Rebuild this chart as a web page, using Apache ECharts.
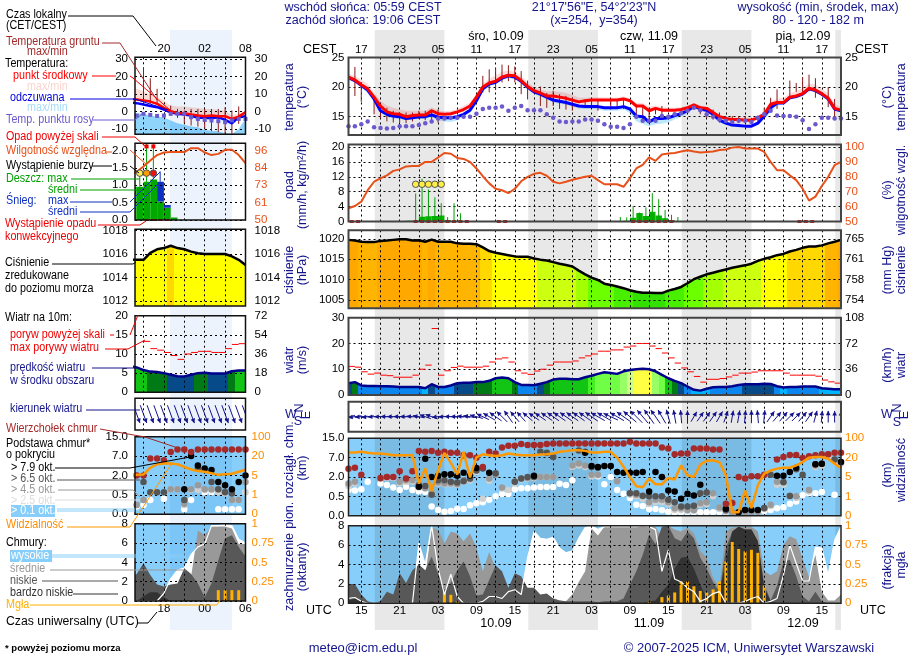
<!DOCTYPE html>
<html>
<head>
<meta charset="utf-8">
<title>meteogram</title>
<script src="https://cdn.jsdelivr.net/npm/echarts@6/dist/echarts.min.js"></script>
<style>
html,body{margin:0;padding:0;background:#fff;}
#main{width:910px;height:660px;}
</style>
</head>
<body>
<div id="main"></div>
<script>
// main panel: one value per hour, first one is 13 UTC on 09.09
const tempMid = [21.7,21.2,20.4,19.7,18.3,16.8,15.8,15.5,15.4,15.0,
	15.2,15.3,15.3,16.0,15.5,15.4,15.5,15.8,16.2,16.8,
	18.3,20.0,20.7,21.0,21.7,22.0,21.9,21.1,20.1,19.4,
	19.0,18.5,18.5,18.3,18.1,17.8,17.5,17.7,17.8,17.8,
	17.8,17.8,17.8,18.0,17.7,16.8,16.8,16.0,16.4,16.1,
	16.1,16.1,16.2,16.5,17.0,16.5,16.4,15.7,15.0,14.7,
	14.5,14.5,14.4,14.4,14.8,15.4,17.1,17.4,17.4,18.3,
	18.5,18.9,19.8,19.5,18.9,18.1,16.4,16.1];
const tempFeels = [21.6,21.1,20.3,19.5,18.0,16.0,15.4,15.1,15.0,14.7,
	14.8,15.0,15.0,15.3,14.9,14.8,14.8,15.0,15.4,16.1,
	17.7,19.7,20.5,20.8,21.5,21.9,21.7,21.0,20.0,19.2,
	18.8,18.3,17.8,17.6,17.4,17.1,16.8,16.7,16.7,16.7,
	16.5,16.5,16.5,16.7,16.3,15.1,15.0,14.1,14.7,14.7,
	14.8,15.2,15.5,16.0,16.8,16.3,16.1,15.4,14.4,13.9,
	13.6,13.5,13.4,13.4,13.9,15.1,16.5,17.3,17.3,18.2,
	18.4,18.8,19.7,19.4,18.8,18.0,16.3,16.0];
const tempMax = [22.3,21.9,21.2,20.5,19.1,17.7,16.9,16.5,16.2,16.0,
	16.0,16.0,16.0,16.6,16.1,15.9,16.0,16.3,16.8,17.4,
	18.8,20.6,21.4,22.0,22.6,22.8,22.6,21.9,20.8,20.0,
	19.6,19.3,19.3,19.2,19.0,18.7,18.2,18.2,18.3,18.3,
	18.3,18.2,18.2,18.4,18.1,17.3,17.3,16.7,16.9,16.6,
	16.5,16.5,16.6,16.8,17.3,16.9,16.7,16.0,15.4,15.0,
	14.8,14.8,14.8,14.8,15.2,16.0,17.6,18.0,18.2,18.9,
	19.3,19.8,20.6,20.4,19.7,18.9,17.2,16.6];
const tempMin = [21.2,20.7,19.9,19.0,17.6,15.7,15.0,14.7,14.6,14.4,
	14.5,14.6,14.6,14.9,14.4,14.2,14.1,14.4,15.0,15.6,
	17.2,19.2,20.2,20.5,21.2,21.5,21.3,20.6,19.6,18.8,
	18.4,17.9,17.4,17.2,17.0,16.7,16.4,16.3,16.3,16.2,
	16.0,16.0,16.0,16.2,15.6,14.2,13.8,13.4,13.7,13.8,
	14.0,14.5,15.0,15.5,16.5,16.0,15.8,15.0,14.0,13.6,
	13.3,13.2,13.2,13.2,13.6,14.5,15.8,16.8,17.2,17.9,
	18.2,18.6,19.4,19.1,18.5,17.6,16.0,15.8];
const dewPoint = [13.4,13.4,13.7,14.2,13.2,13.1,13,13.1,13.4,13.4,
	13.4,13.6,13.9,14.2,14.7,14.7,14.8,14.8,15,15,
	15.5,16.3,16.5,16.5,16.7,16,16.5,16.8,16.1,16.1,
	16.1,15.4,14.8,14.2,14.1,14.2,14.2,14.5,14.5,14.3,
	13.7,13.3,13.3,13.1,13.7,15,14.3,14.3,14.3,15.1,
	15,15.4,15.6,16,16.5,16.1,15.4,15,14.5,14.3,
	14.1,14.3,14.3,14.1,14.8,15.4,16,15.2,15.1,15.1,
	15,14.4,12.9,13.7,14.8,14.8,14.7,14.7];
const groundHours = [13,14,15,17,18,19,20,21,22,23,24,25,26,27,34,35,36,37,38,39,40,41,43,44,45,46,47,48,50,51,52,
	54,55,56,58,59,60,61,62,68,69,70,71,72,73,74,75,76,77,78,79,80,82,83,84,85,86,88,89];
const groundHi = [24.8,23.4,20.8,18.5,16.8,16.5,16,15.7,15.7,15.7,16,16,16.2,16.2,21.9,23,23.2,23.8,23.7,23.5,22.7,21.1,20.1,19,19.4,18.8,18.5,18.2,17.9,17.9,17.9,
	17.9,17.9,17.9,17,16.8,16.5,16.5,16.8,16.5,16.2,16.2,15.7,15.1,15.1,15.1,15.1,14.8,15.1,16.5,18.2,19.6,21.1,20.7,21.7,22.1,21.5,20,18];
const groundLo = [21.5,18.5,17.5,15.4,14.8,14.2,14,14,13.9,14.2,14.6,14.4,14.2,14,19.1,19.1,19.5,20.8,21,20.8,18.8,17.9,16.8,16.5,16.8,16.3,16.2,16,16.5,16.5,16,
	16.3,16.3,16.3,14.8,14.5,14.2,15.4,14.8,15.4,14.8,14.5,14,13.9,13.5,13.9,13.9,13.7,14,14.8,16,16.3,18.2,19.2,18.9,19.3,18.2,16.6,14.5];

const humidity = [58.9,60.4,63.3,71,76.7,79,81,84,85,87,
	87.3,87.3,90,90,93,96,95.5,92.7,92,90,
	85.6,80.4,75.6,72,71,69,72,77,80,82,
	82.7,80.7,76.7,75.6,76.7,78,79,80,80.7,77.8,
	75,75,75,73.3,79,85.6,88,93,90.7,95,
	95.6,96,97,97.8,97,96.4,96.7,97,98,98.4,
	99.6,100,99,99,99,96.7,90,84.4,84.4,81,
	77.8,72,64,66.7,73.8,80,87.8,90];
const rainHours = [22,23,24,25,26,27,28,29,30,55,56,57,58,59,60,61,62,63,64];
const rainMean = [0.2,0.3,1.3,1.4,1.5,1.6,0.4,0.1,0,0.1,0.2,1,2.3,1.5,2.6,1.6,0.9,0.4,0.1];
const rainMax = [0.2,7.5,11.5,8.6,6.5,4.9,1.2,4.9,2.2,1.2,1.1,4.2,2.4,3.8,7.6,6,3.1,1.8,1.2];
const convectiveHours = [13,14,23,24,25,26,27,28,29,30,31,36,37,57,58,59,60,61,62,63,83,84,85];
const stormHours = [23,24,25,26,27];

const pressure = [1019.75,1019.6,1019.3,1019.2,1019.2,1019.5,1019.6,1019.75,1019.9,1019.9,
	1019.6,1019.65,1019.3,1019.8,1019.3,1019.3,1019.3,1018.9,1018.8,1018.8,
	1018.7,1017.9,1017,1016.6,1016.3,1016,1015.7,1015.6,1015.6,1015.2,
	1014.9,1014.7,1014.3,1013.9,1013.6,1013.2,1012.2,1011.3,1010.5,1009.9,
	1009,1008.7,1008.3,1007.9,1007.4,1007,1006.8,1006.8,1006.7,1006.7,
	1007.3,1007.7,1008.2,1009.1,1010.1,1010.7,1011.3,1011.7,1012.1,1012.5,
	1012.9,1013.2,1013.5,1013.9,1014.6,1015.1,1015.5,1016,1016.3,1016.9,
	1017.3,1017.8,1018.1,1018.1,1018.4,1018.9,1019.3,1019.75];

const windSpeed = [4.6,5,3.7,3.5,3.5,3.4,3.4,3.3,3.1,3.1,
	3.1,3.1,2.6,4.2,3.1,3.1,3.7,4.6,4.8,4.8,
	5,5,5.5,6.5,6.8,6.5,5,3.9,3.9,3.8,
	4.4,5,6,6.3,6.3,6.1,6.1,6.9,7.5,8.2,
	8.8,8.5,8.2,9.2,9.7,10,10.2,10,9.2,7.8,
	6.5,5.5,4.6,3.3,2,1.7,2.4,3,3.1,3.1,
	3.4,3.9,4.2,4.2,4.2,4.4,4.3,3.4,2.9,3.1,
	3.1,3.3,3.3,3.3,2.6,2.4,2.2,2.2];
const windGust = [11.1,10.8,9,8.1,8.5,7.7,7.5,6.9,6.9,6.9,
	7.7,10,11.6,25.8,7.7,9.4,10.7,11.2,10.8,10.8,
	10.8,11.2,12.8,14,14.4,12.8,9.4,8.5,8,9.3,
	10,11.6,12.8,12.8,12.8,13.2,14.4,15.2,15.9,17,
	17,17.5,17.5,18.6,19,20,20,19,18,16.3,
	14.4,12.4,10.5,9,7.2,5,6.1,6.1,6.4,7,
	7.7,8.5,8.5,8.9,9.4,9.4,9.4,9.4,8.5,7.7,
	7.7,7.7,7.7,7.3,5.8,5.1,4.6];
const windDir = [260,262,265,262,268,270,272,272,272,272,
	275,280,290,290,265,268,272,272,275,278,
	285,295,300,305,315,325,320,318,310,305,
	305,305,305,305,305,305,305,305,305,300,
	300,295,300,305,310,315,320,325,325,330,
	345,350,355,0,30,35,35,35,30,20,
	10,10,5,0,355,5,35,40,40,45,
	45,40,35,15,5,0,0,0];

// cloud base heights in km by cover class, null where the class has no dot
const cloudTop = [4.15,4.4,2.6,null,null,1.93,2,2,3.5,1.88,
	3.5,9.7,9.4,9.8,9,9.4,9,9,8,8,
	7,4.6,9.4,8.7,11.2,11.9,11.9,12.6,12.2,12.2,
	12.2,12.6,12.8,12.8,12.8,12.8,12.8,12.8,12.8,12.8,
	12.8,12.8,12.8,12.8,13.6,12.8,12.8,12.8,12.8,11.2,
	10.8,8.4,8.7,8.7,10.8,10.8,10.8,10.4,10.4,0.31,
	0.33,2,1.88,2.2,2.2,2.6,null,6.5,7.3,8.1,
	8.1,6.9,7.6,8,8.4,8.4,9,9];
const cloudBlack = [null,null,null,null,null,null,null,null,null,null,
	null,1.25,6.7,2,2.3,2.7,2.7,2.3,3.1,2.4,
	4.3,null,3.1,null,null,null,null,null,null,2.3,
	null,null,null,null,null,null,null,9,4.85,4.6,
	4.85,4.85,3.3,3.1,3.1,3.1,3.3,0.88,3.3,2,
	0.95,0.88,0.44,0.7,0.57,1.4,null,null,null,0.18,
	null,0.09,0.15,0.15,0.15,null,null,2.3,2.3,3.3,
	4.4,null,null,5.3,5.4,null,null,5.9];
const cloudDark = [null,null,null,null,null,null,null,null,null,null,
	null,1.38,1.3,0.63,1.75,1.75,1.63,1.58,1.68,1.88,
	3.7,4.2,null,3,null,null,1.63,1.88,2,2,
	9.4,9,7.3,null,null,null,10,9.4,4.6,4.4,
	null,null,null,null,0.75,0.75,0.55,0.5,0.5,0.5,
	0.41,0.35,0.24,0.24,0.26,0.75,0.8,null,null,0.15,
	null,null,null,null,null,0.2,2.6,null,1.6,0.53,
	4,2.6,null,5.3,5.4,null,6.5,null];
const cloudGray = [1.5,1.63,null,null,null,1.88,2,2,1.63,1.75,
	1.75,1.25,1.13,0.75,1.58,1.5,1.5,1.43,1.75,1.85,
	3.7,4.3,1.88,2.6,1.18,null,1.63,1.88,1.93,2,
	2,2,2,null,null,5,5.5,5,2.6,2.6,
	null,null,1.68,null,0.75,0.63,0.5,0.35,0.41,0.41,
	0.35,0.19,0.19,0.15,0.15,0.32,0.35,0.75,0.21,0.13,
	0.09,0.09,0.09,0.09,0.09,0.19,0.28,1.63,1.63,0.55,
	0.5,null,1,5,5.4,8.4,6.5,5.9];
const cloudLight = [1.3,1.5,null,null,null,1.88,1.93,1.93,1.5,1.63,
	1.63,1.18,1.13,0.63,1.5,1.43,1.43,1.38,1.63,1.75,
	3.3,0.44,1.7,null,1.1,1,1.5,1.8,1.88,1.93,
	2,2,2,null,null,4.6,5,4.6,2.2,2.4,
	null,null,null,null,0.63,0.5,0.44,0.3,0.35,0.35,
	0.3,0.15,0.15,0.13,0.13,0.28,0.3,0.5,0.17,0.1,
	null,null,null,null,null,0.17,0.25,1.4,1.4,0.5,
	0.46,null,0.88,4.6,5,7.6,6,5.4];
const cloudWhite = [1,0.95,1.05,1.63,null,1.5,1.38,1.18,1,1.25,
	1,0.88,0.83,0.24,0.15,0.1,0.12,0.18,0.17,0.27,
	0.32,0.35,0.41,0.5,0.68,0.68,1.05,1.13,1.13,1.18,
	1.23,1.23,1.23,1.48,1.38,1.75,null,null,2.17,2.2,
	1.43,2,1,0.7,0.46,0.28,0.25,0.17,0.17,0.14,
	0.1,0.09,0.09,0.09,0.09,0.09,0.09,0.09,0.09,0.09,
	null,null,null,null,0.09,0.12,0.15,0.19,0.22,0.31,
	0.37,0.58,0.75,0.75,0.83,null,0.63,null];
const visibility = [41,41,44,40,37,37,34,30,30,30,
	30,3.67,11.5,2.1,10,40,16,7,44,4.9,
	21,34,30,27,30,37,33,30,30,30,
	33,34,37,44,47,51,51,48,41,41,
	44,44,20,13,5,3.1,2.9,4.7,3.5,3.5,
	4.8,4.5,14,6.3,5,14.7,17.6,17.9,16.4,6.3,
	0.18,0.18,2.2,0.39,3.3,7.6,10,11.5,12.2,12.2,
	14,16.6,20,22.8,22.8,19.2,15.3,11.9];

const coverHigh = [0.5,0.6,0.2,0,0,0,0,0,0,0,
	0,6.2,4,8,3.6,0.9,3,0.7,0,0,
	0,0.2,0.7,0.7,0.5,1.2,1.4,0.9,4.7,7.4,
	6.7,6.6,6.8,5.7,5.2,5.4,6.7,7.8,8,7.6,
	7.9,7.9,7.9,7.9,7.9,7.9,8,7.9,7.6,3.3,
	5.5,2.5,2.2,1.6,1.2,0.2,0.5,1,1.2,0,
	0,0,0.2,0.5,0.7,0,0.2,0.5,2.9,6,
	4.1,2.3,2.3,5.8,5.7,2.9,6.5,7.9];
const coverMedium = [0,0,0,0,0,0.1,0.2,0.1,0.5,0.4,
	1.5,4.1,2.8,7.8,7.6,6.2,7.4,7.2,6.4,7.2,
	5.7,3.3,5.3,3.6,1.5,0.9,1.4,0.9,0.7,0.2,
	0.2,0.2,0.5,0.3,0.2,0.9,2.2,3.3,7.7,7,
	7.9,7.9,7.9,7.9,7.9,7.9,8,8,7.9,6.8,
	8,7.6,7.4,7.8,7.2,5.4,4.7,2.6,1.6,7.4,
	7.8,7.9,7.9,7.9,7.4,3.3,2.9,3.3,6,6.9,
	6.6,4.6,2.7,5,1.2,0.3,0.3,0.9];
const coverLow = [2,2,0.9,0.2,0,0.2,1.2,0.9,3.1,2.1,
	3.4,4,3.4,4.8,3.1,1.4,2.1,3.4,4.3,2.8,
	0.8,0.9,2.4,3.9,3.3,1.6,3.1,2.8,1.6,1.6,
	0.9,1,0.5,0.3,0.2,0.2,0.2,0.2,0.2,0.1,
	0.2,0.2,0.2,0.5,1.9,3.3,5,7.1,6.1,7.9,
	8,6.7,6.4,7.4,6.7,4.7,3.6,2.2,1.2,5.7,
	7.4,7.9,7.6,7.6,6.4,1.9,0.3,1.8,4.3,4.5,
	2.8,0.7,0.2,1.2,0.2,0,0,0];
const coverVeryLow = [0.3,0.5,0.2,0,0,0,0,0,0,0,
	0,0,0,0.2,0,0,0.2,0,0,0,
	0,0,0,0,0,0,0,0,0,0,
	0,0,0,0,0,0,0,0,0,0,
	0,0,0,0,0,0,0,0.2,0.3,1.2,
	1.9,3.6,4.7,4.8,3.6,1.9,0.5,0.9,1.2,4.3,
	7.4,7.9,7.6,7.6,6.4,1.6,0.2,0,0,0,
	0,0,0,0,0,0,0,0];
const fogHours = [28,29,30,60,62,63,64,65,66,67,68,69,70,71,72,73,74,75,76,77,78];
const fogFraction = [0.14,0.11,0.02,0.02,0.08,0.1,0.14,0.28,0.28,0.22,0.16,0.14,0.18,0.28,0.54,0.79,0.7,0.67,0.69,0.65,0.23];

// legend panel on the left, first value is 13 UTC too
const legTempMid = [7.2,6.9,6.3,5.7,4.4,2.1,0.2,-0.8,-1,-1.7,-2.3,-2.7,-2.3,-2.7,-2.7,-4.2,-2.9,-0.4];
const legFeels = [5.2,4.8,4,3.2,2.5,1.1,-0.4,-1.3,-1.7,-2.3,-3.6,-3.6,-3.8,-3.2,-4.8,-6.7,-3.2,-2.7];
const legMax = [14,13,11.6,9.7,8.2,6.3,3.4,2.9,2.9,2.5,2.1,1.5,1.5,1,0.6,-2.3,-1.3,0.6];
const legMin = [-0.8,-1,-1.3,-2.3,-2.9,-3.2,-5.1,-6.7,-7.6,-8.6,-9,-10.5,-10.9,-11.2,-12.4,-12.8,-9.9,-4.2];
const legDew = [-2.3,-2.3,-1.3,-1.9,-2.5,-2.3,-1.3,-1.3,-1.3,-3.2,-4.2,-4.8,-5.1,-5.5,-6.1,-5.1,-4.2,-4.2];
const legGroundHours = [15,16,17,19,20,21,22,23,24,25,26,27,28,29];
const legGroundHi = [25,19,13,3.4,1.5,0.6,1.5,1.5,1.5,1.5,1.5,2.5,0.6,2.9];
const legGroundLo = [8.2,4.4,4.4,-2.3,-3.6,-6.7,-8,-8.6,-9.9,-11.2,-11.8,-13,-12.8,-7];
const legHumidity = [80,82,85.4,89.4,93,94.7,95,95,95,97.6,97.6,94.7,93,93.8,96.5,96.5,93,87.6];
const legRainHours = [13,14,15,16,17,18,19];
const legRainMean = [0.96,0.96,1.1,1.17,0.53,0.35,0.07];
const legRainMax = [0.96,1.35,2.2,2.2,0.53,0.35,0.07];
const legSnowHours = [17,18];
const legSnowMean = [1.1,0.43];
const legSnowMax = [1.4,0.43];
const legConvective = [15,16,17,18];
const legAboveScale = [15,16];
const legStormHours = [14,15,16];
const legPressure = [1015.5,1015.5,1015.5,1016.1,1016.4,1016.5,1016.7,1016.5,1016.4,1016.2,1016.06,1016,1016,1016,1016,1015.8,1015.5,1015.06];
const legWind = [6.8,6.5,5.8,5.4,5.3,5,4.6,4.2,4.15,4.6,5,5.1,4.9,4.9,4.9,5.5,5.7,5.7];
const legGustHours = [15,16,17,18,19,20,21,22,23,24,25,26,27,28,29];
const legGust = [13.3,11.4,11,10.4,9.6,8.6,10,10.4,10.7,10.7,10.4,10.4,11.4,12.5,12.7];
const legDir = [160,160,160,160,160,160,160,160,160,160,160,160,160,160,160,160,160,160];
const legTop = [null,2,2,6.4,6.4,5.9,8.7,9.7,9.7,8.7,9.7,9.7,9.7,9.7,9.7,9.7,9.7,9.7];
const legBlack = [null,null,null,null,null,null,null,null,0.93,7,4.6,3.8,3.4,1.5,1.25,0.93,1.5,2];
const legDark = [null,null,1.5,0.7,0.7,0.7,null,null,0.37,null,3.8,null,1.5,0.93,0.7,0.6,null,null];
const legGray = [null,0.24,0.37,null,null,null,0.93,0.93,0.27,0.93,1.25,0.93,0.93,0.93,0.75,0.37,0.37,1.5];
const legLight = [null,0.24,0.37,null,null,null,0.93,0.93,0.24,0.88,0.88,0.88,0.88,0.7,0.6,0.37,0.37,0.7];
const legWhite = [null,0.2,0.24,0.37,null,0.4,null,null,0.13,0.37,null,0.7,0.7,0.13,0.13,0.13,0.13,0.7];
const legVisibility = [5.5,5.5,5.8,11,13.7,14.2,14.2,13.7,11.6,9.7,8.4,7.9,6.8,5.5,6,6.3,7.9,9.5];
const legHigh = [0,0,0,0,0,0.8,2.3,3.2,3.4,4.8,5.6,5.9,7.8,7.8,7.9,7.8,6.4,6];
const legMedium = [0,0,0,0,0,0,0.1,0.5,1.8,2.5,7.3,6.8,7.7,7.7,7.7,7.5,5.9,5.9];
const legLow = [2.5,2.8,3.9,2.7,1.7,1.5,1.7,1.8,3.4,2.8,1.8,0.4,1.8,4.2,6.5,6.8,5.6,4.6];
const legVeryLow = [0,0,0.5,0.9,0.9,0.4,0,0,0,0,0,0,0,0,0,0,0,0];
const legFogHours = [26,27,28,29];
const legFog = [0.14,0.14,0.14,0.14];

// axis scales and tick labels
const cloudTicks = [0,0.5,2,7,15];
const visTicks = [0,1,5,20,100];
const nightBands = [[17.1,28],[41.1,52],[65.1,76],[89.1,90]];
const legendBand = [[18.9,28]];
const timeTicksMain = [15,21,27,33,39,45,51,57,63,69,75,81,87];
const gridTicksMain = [15,18,21,24,27,30,33,36,39,42,45,48,51,54,57,60,63,66,69,72,75,78,81,84,87];
const timeTicksLeg = [18,24,30];
const gridTicksLeg = [15,18,21,24,27];

const FONT = 'Liberation Sans';
const TICK_SIZE = 11.5;
const hoursOf = arr => arr.map((v, i) => 13 + i);
const hours = hoursOf(tempMid);
const legHours = hoursOf(legTempMid);
const pad = v => (v < 10 ? '0' : '') + v;
const zip = (xs, ys) => xs.map((x, i) => [x, ys[i]]);

// position on an axis whose ticks are evenly spaced but not linear
function tickPos(v, ticks) {
	if (v === null) return null;
	for (let i = 1; i < ticks.length; i++) {
		if (v <= ticks[i]) return i - 1 + (v - ticks[i - 1]) / (ticks[i] - ticks[i - 1]);
	}
	return ticks.length - 1;
}

function pressureColor(p) {
	if (p >= 1019.5) return '#ffa800';
	if (p >= 1018.5) return '#ffb400';
	if (p >= 1016.65) return '#ffd800';
	if (p >= 1015) return '#ffff00';
	if (p >= 1012.5) return '#ccff10';
	if (p >= 1011) return '#a4ff00';
	if (p >= 1008.5) return '#6cff00';
	if (p >= 1007.2) return '#48f000';
	return '#34e000';
}
function windColor(v) {
	if (v < 3) return '#00b4ff';
	if (v < 4.15) return '#0a86ee';
	if (v < 5) return '#064a8a';
	if (v < 5.6) return '#007a14';
	if (v < 7) return '#12c414';
	if (v < 7.8) return '#44ee22';
	if (v < 8.9) return '#70ff44';
	if (v < 9.6) return '#99ff66';
	if (v < 10) return '#ccff88';
	return '#ffff44';
}
// one hard colour block per hour, used as fill of a line area
function hourGradient(hs, ys, colorOf) {
	const a = hs[0], b = hs[hs.length - 1], stops = [];
	hs.forEach((h, i) => {
		const c = colorOf(ys[i]);
		stops.push({offset: Math.max(0, (h - 0.5 - a) / (b - a)), color: c});
		stops.push({offset: Math.min(1, (h + 0.5 - a) / (b - a)), color: c});
	});
	return {type: 'linear', x: 0, y: 0, x2: 1, y2: 0, colorStops: stops};
}

const grids = [], xAxes = [], yAxes = [], series = [], gfx = [];
const dashLine = {show: true, lineStyle: {color: '#000', width: 1, type: [2, 3]}};

function panel(o) {
	const g = grids.length;
	grids.push({left: o.x, top: o.y, width: o.w, height: o.h, show: true, borderWidth: 0, backgroundColor: o.bg || 'transparent'});
	xAxes.push({
		gridIndex: g, type: 'value', min: o.xr[0], max: o.xr[1], z: 5, position: o.timePos || 'bottom',
		axisLine: {show: false},
		axisTick: {show: false, customValues: o.xGrid},
		splitLine: dashLine,
		axisLabel: o.timeFmt ? {show: true, customValues: o.timeTicks, formatter: o.timeFmt, margin: 2, color: '#000',
			fontFamily: FONT, fontSize: TICK_SIZE} : {show: false}
	});
	const left = yAxes.length;
	yAxes.push({
		gridIndex: g, type: 'value', min: o.yr[0], max: o.yr[1], z: 5, position: 'left',
		axisLine: {show: false},
		axisTick: {show: false, customValues: o.yTicks},
		splitLine: dashLine,
		axisLabel: {show: !!o.yFmt, customValues: o.yTicks, formatter: o.yFmt, margin: o.lm, color: '#000', fontFamily: FONT, fontSize: TICK_SIZE}
	});
	const right = yAxes.length;
	const r = o.right || {};
	yAxes.push({
		gridIndex: g, type: 'value', min: (r.range || o.yr)[0], max: (r.range || o.yr)[1], z: 5, position: 'right',
		axisLine: {show: false}, axisTick: {show: false, customValues: r.ticks || o.yTicks},
		splitLine: {show: false},
		axisLabel: {show: !!(r.fmt || o.rightSame), customValues: r.ticks || o.yTicks, formatter: r.fmt || o.yFmt,
			margin: o.rm, color: r.color || '#000', fontFamily: FONT, fontSize: TICK_SIZE}
	});
	gfx.push({type: 'rect', z: 40, silent: true, shape: {x: o.x, y: o.y, width: o.w, height: o.h},
		style: {fill: 'none', stroke: o.frame || '#222', lineWidth: o.frameW || 1.5}});
	return {x: g, y: left, y2: right};
}

function line(p, xs, ys, color, width, extra) {
	series.push(Object.assign({
		type: 'line', xAxisIndex: p.x, yAxisIndex: p.y, data: zip(xs, ys), showSymbol: false, symbol: 'none', silent: true,
		connectNulls: true, z: 6, lineStyle: {color: color, width: width}
	}, extra || {}));
}
function dots(p, xs, ys, color, size, symbol, z) {
	series.push({type: 'scatter', xAxisIndex: p.x, yAxisIndex: p.y, data: zip(xs, ys).filter(d => d[1] !== null),
		symbol: symbol || 'circle', symbolSize: size, silent: true, z: z || 6, itemStyle: {color: color, opacity: 1}});
}
// z 3 keeps a fill above the night shading, z 1 lets the shading darken it
function area(p, xs, ys, fill, z) {
	series.push({type: 'line', xAxisIndex: p.x, yAxisIndex: p.y, data: zip(xs, ys), showSymbol: false, symbol: 'none', silent: true,
		z: z || 1, lineStyle: {width: 0}, areaStyle: {color: fill, opacity: 1, origin: 'start'}});
}
function custom(p, data, draw, z, yIndex) {
	series.push({type: 'custom', xAxisIndex: p.x, yAxisIndex: yIndex === undefined ? p.y : yIndex, data: data, clip: true, silent: true,
		z: z || 6, renderItem: function(params, api) { return draw(data[params.dataIndex], api); }});
}
function band(p, xs, hi, lo, fill) {
	custom(p, [0], function(d, api) {
		const pts = [];
		xs.forEach((x, i) => pts.push(api.coord([x, hi[i]])));
		for (let i = xs.length - 1; i >= 0; i--) pts.push(api.coord([xs[i], lo[i]]));
		return {type: 'polygon', shape: {points: pts}, style: {fill: fill}};
	}, 1);
}
function vlines(p, xs, lo, hi, color, width, dx, z) {
	custom(p, zip(xs, xs.map((x, i) => [lo[i], hi[i]])), function(d, api) {
		const a = api.coord([d[0] + dx, d[1][0]]), b = api.coord([d[0] + dx, d[1][1]]);
		return {type: 'line', shape: {x1: a[0], y1: a[1], x2: b[0], y2: b[1]}, style: {stroke: color, lineWidth: width}};
	}, z);
}
function blocks(p, xs, lo, hi, color) {
	custom(p, zip(xs, xs.map((x, i) => [lo[i], hi[i]])), function(d, api) {
		const a = api.coord([d[0], d[1][1]]), b = api.coord([d[0] + 1, d[1][0]]);
		return {type: 'rect', shape: {x: a[0], y: a[1], width: b[0] - a[0], height: b[1] - a[1]}, style: {fill: color}};
	}, 3);
}
function overlay(x, w, xr, spans, color) {
	const g = grids.length;
	grids.push({left: x, top: 30, width: w, height: 600, show: false});
	xAxes.push({gridIndex: g, type: 'value', min: xr[0], max: xr[1], show: false});
	const yi = yAxes.length;
	yAxes.push({gridIndex: g, type: 'value', min: 0, max: 1, show: false});
	custom({x: g, y: yi}, spans, function(d, api) {
		const a = api.coord([d[0], 1]), b = api.coord([d[1], 0]);
		return {type: 'rect', shape: {x: a[0], y: a[1], width: b[0] - a[0], height: b[1] - a[1]}, style: {fill: color}};
	}, 2);
}
function arrows(p, xs, dirs, speeds, fixedLen) {
	custom(p, xs.map((x, i) => [x, dirs[i], speeds ? speeds[i] : 0]), function(d, api) {
		const c = api.coord([d[0], 0.5]);
		const len = fixedLen || (10 + 0.7 * d[2]);
		const a = d[1] * Math.PI / 180, ux = Math.sin(a), uy = -Math.cos(a);
		const hx = c[0] + ux * len / 2, hy = c[1] + uy * len / 2;
		const tx = c[0] - ux * len / 2, ty = c[1] - uy * len / 2;
		const bx = hx - ux * 4.5, by = hy - uy * 4.5;
		return {type: 'group', children: [
			{type: 'line', shape: {x1: tx, y1: ty, x2: hx, y2: hy}, style: {stroke: '#14148c', lineWidth: 1}},
			{type: 'polygon', shape: {points: [[hx, hy], [bx - uy * 2.3, by + ux * 2.3], [bx + uy * 2.3, by - ux * 2.3]]}, style: {fill: '#14148c'}}
		]};
	}, 6);
}
function fogBars(p, xs, ys) {
	series.push({type: 'bar', xAxisIndex: p.x, yAxisIndex: p.y2, data: zip(xs, ys), barWidth: 3, silent: true, z: 4,
		itemStyle: {color: '#ffb000'}});
}

const cloudFmt = v => ['0.0', '0.5', '2.0', '7.0', '15.0'][v];
const visFmt = v => String(visTicks[v]);
const intFmt = v => String(v);
const redOrange = '#e8501a';
const orange = '#ff8c00';

// main panels ---------------------------------------------------------------
const mainX = 348.5, mainW = 492.5, mainR = [13, 90];
const frameMain = {x: mainX, w: mainW, xr: mainR, xGrid: gridTicksMain, lm: 4, rm: 4, frame: '#444', frameW: 2};
overlay(mainX, mainW, mainR, nightBands, 'rgba(0,0,0,0.09)');
overlay(135, 110.5, [13.75, 30], legendBand, 'rgba(0,90,220,0.075)');

const pTemp = panel(Object.assign({}, frameMain, {y: 57.5, h: 77.5, yr: [11.9, 25], yTicks: [15, 20, 25], yFmt: intFmt, rightSame: true,
	timePos: 'top', timeTicks: timeTicksMain, timeFmt: v => pad((v + 2) % 24)}));
const pRain = panel(Object.assign({}, frameMain, {y: 144.5, h: 77, yr: [0, 20.67], yTicks: [0, 4, 8, 12, 16, 20], yFmt: intFmt,
	right: {range: [50, 101.7], ticks: [50, 60, 70, 80, 90, 100], fmt: intFmt, color: redOrange}}));
const pPres = panel(Object.assign({}, frameMain, {y: 230.3, h: 78, yr: [1002.96, 1022.1], yTicks: [1005, 1010, 1015, 1020], yFmt: intFmt,
	right: {range: [752.3, 766.6], ticks: [753.8, 757.6, 761.3, 765], fmt: v => String(Math.round(v))}}));
const pWind = panel(Object.assign({}, frameMain, {y: 317.7, h: 77.3, yr: [0, 30], yTicks: [0, 10, 20, 30], yFmt: intFmt,
	right: {range: [0, 108], ticks: [0, 36, 72, 108], fmt: intFmt}}));
const pDir = panel(Object.assign({}, frameMain, {y: 401.7, h: 30, yr: [0, 1], yTicks: []}));
const pCloud = panel(Object.assign({}, frameMain, {y: 438.3, h: 77.4, bg: '#87cefa', yr: [0, 4], yTicks: [0, 1, 2, 3, 4], yFmt: cloudFmt,
	right: {range: [0, 4], ticks: [0, 1, 2, 3, 4], fmt: visFmt, color: orange}, frame: '#222', frameW: 1.5}));
const pCover = panel(Object.assign({}, frameMain, {y: 525.7, h: 77.6, bg: '#87cefa', yr: [0, 8], yTicks: [0, 2, 4, 6, 8], yFmt: intFmt,
	right: {range: [0, 1], ticks: [0, 0.25, 0.5, 0.75, 1], fmt: v => String(v), color: orange},
	timeTicks: timeTicksMain, timeFmt: v => pad(v % 24), frame: '#222', frameW: 1.5}));

band(pTemp, hours, tempMax, tempMid, '#fbdcdc');
band(pTemp, hours, tempFeels, tempMin, '#bde7fc');
vlines(pTemp, groundHours, groundLo, groundHi, '#8b1a1a', 1, 0, 5);
dots(pTemp, hours, dewPoint, '#6a5acd', 4.5);
line(pTemp, hours, tempFeels, '#0000ff', 3);
line(pTemp, hours, tempMid, '#ff0000', 3);

blocks(pRain, rainHours, rainHours.map(() => 0), rainMean, '#00b400');
vlines(pRain, rainHours, rainHours.map(() => 0), rainMax, '#00a000', 1, 0.5, 6);
line(pRain, hours, humidity, redOrange, 2, {yAxisIndex: pRain.y2});
dots(pRain, convectiveHours.map(h => h + 0.5), convectiveHours.map(() => 0), '#cc1111', [4, 3], 'rect');
series.push({type: 'scatter', xAxisIndex: pRain.x, yAxisIndex: pRain.y, data: stormHours.map(h => [h + 0.5, 10]), symbolSize: 6.5, silent: true, z: 7,
	itemStyle: {color: '#ffee44', borderColor: '#555', borderWidth: 1, opacity: 1}});

area(pPres, hours, pressure, hourGradient(hours, pressure, pressureColor), 3);
line(pPres, hours, pressure, '#000', 2.5);

area(pWind, hours, windSpeed, hourGradient(hours, windSpeed, windColor), 3);
line(pWind, hours, windSpeed, '#00008b', 2.5);
custom(pWind, zip(hours.slice(0, windGust.length), windGust), function(d, api) {
	const a = api.coord([d[0], d[1]]), b = api.coord([d[0] + 1, d[1]]);
	return {type: 'line', shape: {x1: a[0], y1: a[1], x2: b[0], y2: b[1]}, style: {stroke: '#ff0000', lineWidth: 1}};
}, 6);
arrows(pDir, hours, windDir, windSpeed);

function cloudDots(p, xs, top, white, light, gray, dark, black, vis) {
	const pos = arr => arr.map(v => tickPos(v, cloudTicks));
	dots(p, xs, pos(white), '#ffffff', 6.5);
	dots(p, xs, pos(light), '#d0d0d0', 6.5);
	dots(p, xs, pos(gray), '#9a9a9a', 6.5);
	dots(p, xs, pos(dark), '#555555', 6.5);
	dots(p, xs, pos(black), '#000000', 6.5);
	dots(p, xs, pos(top), '#a52a2a', 6.5);
	line(p, xs, vis.map(v => tickPos(v, visTicks)), '#ff9800', 2.5, {z: 7});
}
cloudDots(pCloud, hours, cloudTop, cloudWhite, cloudLight, cloudGray, cloudDark, cloudBlack, visibility);

function coverAreas(p, xs, high, medium, low, veryLow) {
	area(p, xs, high, '#ffffff', 3);
	area(p, xs, medium, '#999999', 3);
	area(p, xs, low, '#585858', 3);
	area(p, xs, veryLow, '#333333', 3);
	line(p, xs, high, '#ffffff', 1.2, {z: 4});
}
coverAreas(pCover, hours, coverHigh, coverMedium, coverLow, coverVeryLow);
fogBars(pCover, fogHours, fogFraction);

// legend panels on the left ------------------------------------------------
const legX = 135, legW = 110.5, legR = [13.75, 30];
const frameLeg = {x: legX, w: legW, xr: legR, xGrid: gridTicksLeg, lm: 7, rm: 9, frame: '#111', frameW: 1.5};
const lTemp = panel(Object.assign({}, frameLeg, {y: 57.3, h: 77, yr: [-13, 31], yTicks: [-10, 0, 10, 20, 30], yFmt: intFmt, rightSame: true,
	timePos: 'top', timeTicks: timeTicksLeg, timeFmt: v => pad((v + 2) % 24)}));
const lRain = panel(Object.assign({}, frameLeg, {y: 143.3, h: 76.7, yr: [0, 2.21], yTicks: [0, 0.5, 1, 1.5, 2], yFmt: v => v.toFixed(1),
	right: {range: [50, 100.8], ticks: [50, 61.5, 73, 84.5, 96], fmt: v => String(Math.floor(v)), color: redOrange}}));
const lPres = panel(Object.assign({}, frameLeg, {y: 229.3, h: 76.7, yr: [1011.57, 1018.1], yTicks: [1012, 1014, 1016, 1018], yFmt: intFmt, rightSame: true}));
const lWind = panel(Object.assign({}, frameLeg, {y: 315.7, h: 76.6, yr: [0, 20], yTicks: [0, 5, 10, 15, 20], yFmt: intFmt,
	right: {range: [0, 72], ticks: [0, 18, 36, 54, 72], fmt: intFmt}}));
const lDir = panel(Object.assign({}, frameLeg, {y: 398.3, h: 31.7, yr: [0, 1], yTicks: []}));
const lCloud = panel(Object.assign({}, frameLeg, {y: 436.7, h: 77.6, bg: '#87cefa', yr: [0, 4], yTicks: [0, 1, 2, 3, 4], yFmt: cloudFmt, rm: 6,
	right: {range: [0, 4], ticks: [0, 1, 2, 3, 4], fmt: visFmt, color: orange}}));
const lCover = panel(Object.assign({}, frameLeg, {y: 523.7, h: 77.3, bg: '#87cefa', yr: [0, 8], yTicks: [0, 2, 4, 6, 8], yFmt: intFmt, rm: 6,
	right: {range: [0, 1], ticks: [0, 0.25, 0.5, 0.75, 1], fmt: v => String(v), color: orange},
	timeTicks: timeTicksLeg, timeFmt: v => pad(v % 24)}));

band(lTemp, legHours, legMax, legTempMid, '#fbdcd4');
area(lTemp, legHours, legMin, '#8ed4fb');
vlines(lTemp, legGroundHours, legGroundLo, legGroundHi, '#8b1a1a', 1, 0, 5);
dots(lTemp, legHours, legDew, '#6a5acd', 4, 'rect');
line(lTemp, legHours, legFeels, '#0000ff', 2.5);
line(lTemp, legHours, legTempMid, '#ff0000', 2.5);

blocks(lRain, legRainHours, legRainHours.map(() => 0), legRainMean, '#00a800');
blocks(lRain, legSnowHours, legRainMean.slice(4, 6), legSnowMean, '#1030c0');
vlines(lRain, legRainHours, legRainMean, legRainMax, '#00a000', 1, 0.45, 6);
vlines(lRain, legSnowHours, legSnowMean, legSnowMax, '#1030c0', 1, 0.45, 6);
line(lRain, legHours, legHumidity, redOrange, 2, {yAxisIndex: lRain.y2});
dots(lRain, legConvective.map(h => h + 0.5), legConvective.map(() => 0), '#cc1111', [4, 2], 'rect');
dots(lRain, legAboveScale.map(h => h + 0.45), legAboveScale.map(() => 2.12), '#ee0000', 4, 'rect');
series.push({type: 'scatter', xAxisIndex: lRain.x, yAxisIndex: lRain.y, data: legStormHours.map(h => [h + 0.45, 1.35]), symbolSize: 6.5, silent: true, z: 7,
	itemStyle: {borderColor: '#555', borderWidth: 1, opacity: 1, color: params => ['#ffee44', '#ff9d00', '#ee1111'][params.dataIndex]}});

area(lPres, legHours, legPressure, hourGradient(legHours, legPressure, pressureColor), 3);
line(lPres, legHours, legPressure, '#000', 2.5);

area(lWind, legHours, legWind, hourGradient(legHours, legWind, windColor), 3);
line(lWind, legHours, legWind, '#00008b', 2.5);
custom(lWind, zip(legGustHours, legGust), function(d, api) {
	const a = api.coord([d[0], d[1]]), b = api.coord([d[0] + 1, d[1]]);
	return {type: 'line', shape: {x1: a[0], y1: a[1], x2: b[0], y2: b[1]}, style: {stroke: '#ff0000', lineWidth: 1}};
}, 6);
arrows(lDir, legHours, legDir, null, 19);

cloudDots(lCloud, legHours, legTop, legWhite, legLight, legGray, legDark, legBlack, legVisibility);
coverAreas(lCover, legHours, legHigh, legMedium, legLow, legVeryLow);
fogBars(lCover, legFogHours, legFog);

// texts and leader lines -----------------------------------------------------
const BLUE = '#14148c';
function text(t, x, y, color, opt) {
	opt = opt || {};
	gfx.push({type: 'text', x: x, y: y, z: 50, silent: true, rotation: opt.rot || 0, scaleX: opt.sx || 1, style: {
		text: t, fill: color, font: (opt.bold ? 'bold ' : '') + (opt.size || 12.5) + 'px "' + FONT + '"',
		textAlign: opt.align || 'left', textVerticalAlign: 'middle'}});
}
const legendTexts = [
	['Czas lokalny', 6, 15, '#000'], ['(CET/CEST)', 6, 26, '#000'],
	['Temperatura gruntu', 6, 42, '#a52a2a'], ['max/min', 27, 52, '#a52a2a'],
	['Temperatura:', 5, 64, '#000'], ['punkt środkowy', 13, 76, '#ff0000'], ['max/min', 27, 87, '#fbd5cd'],
	['odczuwana', 10, 98, '#0000e0'], ['max/min', 27, 108, '#a8dcf8'], ['Temp. punktu rosy', 6, 120, '#6a5acd'],
	['Opad powyżej skali', 6, 137, '#ee0000'], ['Wilgotność względna', 6, 151, redOrange], ['Wystąpienie burzy', 6, 166, '#000'],
	['Deszcz: max', 6, 179, '#00a000'], ['średni', 48, 190, '#00a000'], ['Śnieg:', 6, 201, '#1030c0'], ['max', 48, 201, '#1030c0'], ['średni', 48, 212, '#1030c0'],
	['Wystąpienie opadu', 5, 224, '#ee0000'], ['konwekcyjnego', 5, 237, '#ee0000'],
	['Ciśnienie', 5, 263, '#000'], ['zredukowane', 5, 276, '#000'], ['do poziomu morza', 5, 289, '#000'],
	['Wiatr na 10m:', 5, 318, '#000'], ['poryw powyżej skali', 10, 335, '#ee0000'], ['max porywy wiatru', 10, 348, '#ee0000'],
	['prędkość wiatru', 10, 368, BLUE], ['w środku obszaru', 10, 381, BLUE], ['kierunek wiatru', 10, 409, BLUE],
	['Wierzchołek chmur', 6, 429, '#a52a2a'], ['Podstawa chmur*', 6, 444, '#000'], ['o pokryciu', 6, 455, '#000'],
	['> 7.9 okt.', 11, 468, '#000'], ['> 6.5 okt.', 11, 479, '#555'], ['> 4.5 okt.', 11, 490, '#999'], ['> 2.5 okt.', 11, 501, '#ddd'],
	['Widzialność', 6, 525, '#ff8c00'], ['Chmury:', 6, 543, '#000'],
	['średnie', 10, 569, '#999'], ['niskie', 10, 581, '#555'], ['bardzo niskie', 10, 593, '#333'], ['Mgła', 6, 605, '#ffb000']
];
legendTexts.forEach(d => text(d[0], d[1], d[2], d[3], {sx: 0.86}));
text('Czas uniwersalny (UTC)', 6, 622, '#000', {sx: 0.98});
gfx.push({type: 'rect', z: 45, silent: true, shape: {x: 11, y: 505, width: 44, height: 12}, style: {fill: '#87cefa'}});
gfx.push({type: 'rect', z: 45, silent: true, shape: {x: 10, y: 550, width: 42, height: 12}, style: {fill: '#87cefa'}});
text('> 0.1 okt.', 11, 511, '#fff', {sx: 0.86});
text('wysokie', 11, 556, '#fff', {sx: 0.86});
text('* powyżej poziomu morza', 5, 648, '#000', {bold: true, size: 9.5});

const leaderLines = [
	['#000', [[68, 16], [133, 16], [156, 46]]],
	['#a52a2a', [[102, 43], [120, 43], [157, 100]]],
	['#ff0000', [[92, 76], [116, 76]]], ['#ff0000', [[130, 76], [133, 78], [170, 110]]],
	['#0000e0', [[70, 99], [135, 99], [168, 110]]],
	['#6a5acd', [[93, 120], [135, 120], [143, 113]]],
	['#ee0000', [[102, 137], [135, 137], [146, 147]]],
	[redOrange, [[106, 152], [112, 152]]], [redOrange, [[130, 150], [147, 165]]],
	['#000', [[92, 166], [112, 166]]], ['#000', [[130, 166], [139, 173]]],
	['#00a000', [[71, 179], [140, 179]]], ['#00a000', [[80, 190], [140, 190]]],
	['#1030c0', [[70, 202], [112, 202]]], ['#1030c0', [[130, 202], [160, 172]]], ['#1030c0', [[80, 212], [130, 212], [160, 182]]],
	['#ee0000', [[98, 225], [140, 225], [146, 221]]],
	['#000', [[52, 264], [133, 264], [136, 262]]],
	['#ee0000', [[110, 335], [114, 335]]], ['#ee0000', [[130, 335], [138, 315]]], ['#ee0000', [[105, 349], [128, 349], [145, 340]]],
	[BLUE, [[92, 368], [135, 368]]], [BLUE, [[86, 410], [140, 410]]],
	['#a52a2a', [[100, 429], [145, 437], [178, 448]]],
	['#000', [[55, 468], [130, 468], [190, 457]]], ['#555', [[57, 480], [140, 480]]],
	['#999', [[58, 490], [133, 490], [140, 497]]], ['#ddd', [[55, 500], [140, 500]]],
	['#87cefa', [[57, 509], [135, 509]]], ['#87cefa', [[57, 511], [135, 511]]],
	['#ff9800', [[67, 527], [130, 527], [172, 463]]],
	['#87cefa', [[52, 555], [186, 555]]], ['#87cefa', [[52, 557], [186, 557]]],
	['#999', [[50, 570], [186, 570]]], ['#555', [[42, 581], [118, 581]]], ['#333', [[73, 594], [118, 594]]],
	['#ffb000', [[30, 605], [217, 605], [220, 600]]],
	['#000', [[138, 623], [148, 623], [157, 612]]]
];
leaderLines.forEach(d => gfx.push({type: 'polyline', z: 48, silent: true, shape: {points: d[1]}, style: {stroke: d[0], lineWidth: 1, fill: 'none'}}));

text('wschód słońca: 05:59 CEST', 363, 8, BLUE, {align: 'center'});
text('zachód słońca: 19:06 CEST', 363, 21, BLUE, {align: 'center'});
text('21°17\'56"E, 54°2\'23"N', 594, 8, BLUE, {align: 'center'});
text('(x=254,  y=354)', 594, 21, BLUE, {align: 'center'});
text('wysokość (min, środek, max)', 818, 8, BLUE, {align: 'center'});
text('80 - 120 - 182 m', 818, 21, BLUE, {align: 'center'});
[['śro, 10.09', 496], ['czw, 11.09', 649], ['pią, 12.09', 803]].forEach(d => text(d[0], d[1], 37, '#000', {align: 'center'}));
[['10.09', 496], ['11.09', 649], ['12.09', 803]].forEach(d => text(d[0], d[1], 624, '#000', {align: 'center'}));
text('CEST', 303, 50, '#000');
text('CEST', 855, 50, '#000');
text('UTC', 306, 611, '#000');
text('UTC', 860, 611, '#000');
text('meteo@icm.edu.pl', 363, 648, BLUE, {align: 'center', size: 13});
text('© 2007-2025 ICM, Uniwersytet Warszawski', 749, 648, BLUE, {align: 'center', size: 13});

const rotated = [
	['temperatura', 290, 97], ['(°C)', 303, 97], ['(°C)', 888, 97], ['temperatura', 902, 97],
	['opad', 290, 185], ['(mm/h, kg/m²/h)', 303, 185], ['(%)', 888, 190], ['wilgotność wzgl.', 902, 190],
	['ciśnienie', 290, 270], ['(hPa)', 303, 270], ['(mm Hg)', 888, 270], ['ciśnienie', 902, 270],
	['wiatr', 290, 360], ['(m/s)', 303, 360], ['(km/h)', 888, 365], ['wiatr', 902, 365],
	['pion. rozciągł. chm.', 290, 475], ['(km)', 303, 468], ['(km)', 888, 475], ['widzialność', 902, 470],
	['zachmurzenie', 290, 572], ['(oktanty)', 303, 567], ['(frakcja)', 888, 567], ['mgła', 902, 565]
];
rotated.forEach(d => text(d[0], d[1], d[2], BLUE, {rot: Math.PI / 2, align: 'center'}));

[[291, 415, 298, 422, 300, 408, 307, 415], [887, 415, 897, 423, 898, 408, 905, 415]].forEach(c => {
	text('W', c[0], c[1], BLUE, {align: 'center'});
	text('S', c[2], c[3], BLUE, {align: 'center'});
	text('N', c[4], c[5], BLUE, {align: 'center', rot: Math.PI / 2});
	text('E', c[6], c[7], BLUE, {align: 'center', rot: Math.PI / 2});
});

const chart = echarts.init(document.getElementById('main'));
chart.setOption({
	animation: false,
	backgroundColor: '#fff',
	textStyle: {fontFamily: FONT},
	tooltip: {show: false},
	grid: grids,
	xAxis: xAxes,
	yAxis: yAxes,
	series: series,
	graphic: {elements: gfx}
});
</script>
</body>
</html>
